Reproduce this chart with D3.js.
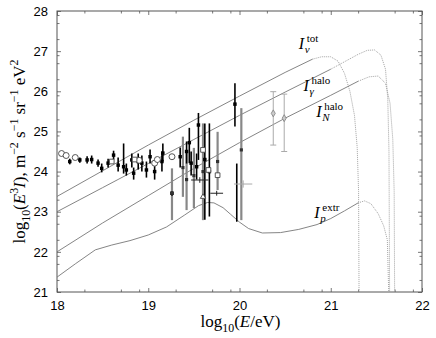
<!DOCTYPE html>
<html><head><meta charset="utf-8">
<script src="https://cdn.jsdelivr.net/npm/d3@7"></script>
<style>body{margin:0;background:#fff}svg{display:block}</style>
</head><body><div id="chart"></div>
<script>
// axis ticks
var xMajor = [18, 19, 20, 21, 22];
var yMajor = [21, 22, 23, 24, 25, 26, 27, 28];
var minorFrac = [0.3, 0.7, 0.9];

// model curves: [log10 E, log10 E^3 I]
var nuTot = [[18,23.38],[18.5,24.02],[19,24.66],[19.5,25.28],[20,25.88],[20.5,26.47],[20.8,26.8],[20.9,26.86],[21.0,26.86],[21.08,26.75],[21.15,26.45],[21.21,26.0],[21.26,25.4],[21.29,24.6],[21.305,23.5],[21.31,21]];
var gammaHalo = [[18,23.0],[18.5,23.6],[19,24.2],[19.5,24.8],[20,25.4],[20.5,25.98],[21,26.55],[21.3,26.92],[21.4,27.02],[21.48,27.03],[21.55,26.9],[21.6,26.55],[21.625,25.8],[21.638,24.5],[21.645,21]];
var nHalo = [[18,22.0],[18.5,22.72],[19,23.4],[19.5,24.08],[20,24.72],[20.5,25.33],[21,25.9],[21.3,26.25],[21.42,26.36],[21.52,26.38],[21.6,26.2],[21.65,25.7],[21.68,24.8],[21.695,23.5],[21.7,21]];
var pExtr = [[18,21.37],[18.2,21.7],[18.42,22.05],[18.6,22.17],[18.8,22.28],[19.0,22.42],[19.2,22.62],[19.4,22.92],[19.55,23.15],[19.65,23.23],[19.72,23.22],[19.82,23.1],[19.9,22.94],[20.0,22.74],[20.1,22.58],[20.25,22.47],[20.45,22.48],[20.65,22.56],[20.85,22.68],[21.0,22.83],[21.15,23.02],[21.3,23.22],[21.37,23.27],[21.44,23.2],[21.52,22.95],[21.58,22.65],[21.62,22.3],[21.635,21]];
var curves = [nuTot, gammaHalo, nHalo, pExtr];
var dottedFrom = [20.8, 21.25, 21.3, 21.3];

// measurements: [log10 E, value, low, high]
var blackPts = [[18.14,24.25,24.18,24.32],[18.25,24.29,24.22,24.35],[18.33,24.29,24.2,24.38],[18.38,24.3,24.2,24.4],[18.45,24.21,24.12,24.3],[18.49,24.08,23.98,24.2],[18.56,24.21,24.1,24.32],[18.62,24.41,24.3,24.52],[18.67,24.16,24.0,24.35],[18.73,24.12,23.95,24.7],[18.76,24.04,23.9,24.2],[18.82,24.29,24.1,24.45],[18.84,23.96,23.8,24.1],[18.89,24.25,24.05,24.45],[18.93,24.21,24.0,24.4],[18.98,24.04,23.85,24.25],[19.02,24.37,24.2,24.55],[19.07,24.0,23.8,24.2],[19.15,24.25,24.0,24.5],[19.16,24.46,24.25,24.7],[19.26,23.46,23.4,23.5],[19.35,24.37,24.1,24.6],[19.42,24.5,24.2,24.75],[19.45,24.72,24.21,25.09],[19.47,24.21,23.9,24.5],[19.53,24.12,23.8,24.45],[19.55,25.16,24.29,25.46],[19.62,24.3,22.8,25.2],[19.67,24.0,22.88,25.2],[19.95,25.68,25.12,26.2]];
var barOnly = [[19.97,24.2,22.75,24.2]];
var greyPts = [[19.26,23.46,22.79,24.08],[19.38,24.1,23.37,24.87],[19.42,23.8,23.04,24.46],[19.5,23.9,23.09,24.59],[19.6,24.0,22.79,25.2],[19.76,24.25,23.54,24.99],[20.02,24.54,22.79,25.58]];
var lightPts = [[20.37,25.45,24.66,25.99],[20.49,25.33,24.5,25.93]];
var openCircles = [[18.05,24.45],[18.1,24.4],[18.2,24.35],[18.9,24.28],[19.07,24.21],[19.26,24.37],[19.1,24.3]];
var openSquares = [[19.6,24.54],[19.66,24.04],[19.76,23.91],[18.6,24.25],[18.85,24.3]];
var triangles = [[19.6,23.37]];
var crosses = [[19.47,19.66,23.79,23.72,23.86],[19.68,19.82,23.46,23.4,23.52]];
var lightCross = [[19.94,20.14,23.69,23.6,23.78]];

var W = 436, H = 338;
var m = {l: 57, r: 14, t: 11, b: 46};

var svg = d3.select("#chart").append("svg").attr("width", W).attr("height", H);

var x = d3.scaleLinear().domain([18, 22]).range([m.l, W - m.r]);
var y = d3.scaleLinear().domain([21, 28]).range([H - m.b, m.t]);

var xMinor = [], yMinor = [];
xMajor.slice(0, -1).forEach(k => minorFrac.forEach(f => xMinor.push(k + f)));
yMajor.slice(0, -1).forEach(k => minorFrac.forEach(f => yMinor.push(k + f)));

var tickFont = "'Liberation Sans', Arial, sans-serif";
var axCol = "#555";

function addAxis(gen, tr, vals, size, labels) {
    var g = svg.append("g").attr("transform", tr)
        .call(gen.tickValues(vals).tickSize(size).tickPadding(labels ? 9 : 0)
                 .tickFormat(labels ? d3.format("d") : ""));
    g.select(".domain").remove();
    g.selectAll("line").attr("stroke", axCol).attr("stroke-width", 0.8);
    g.selectAll("text").attr("font-family", tickFont).attr("font-size", 13).attr("fill", "#000");
    return g;
}
addAxis(d3.axisBottom(x), "translate(0," + (H - m.b) + ")", xMajor, -4, true);
addAxis(d3.axisBottom(x), "translate(0," + (H - m.b) + ")", xMinor, -2.5, false);
addAxis(d3.axisTop(x), "translate(0," + m.t + ")", xMajor, -4, false);
addAxis(d3.axisTop(x), "translate(0," + m.t + ")", xMinor, -2.5, false);
addAxis(d3.axisLeft(y), "translate(" + m.l + ",0)", yMajor, -4, true);
addAxis(d3.axisLeft(y), "translate(" + m.l + ",0)", yMinor, -2.5, false);
addAxis(d3.axisRight(y), "translate(" + (W - m.r) + ",0)", yMajor, -4, false);
addAxis(d3.axisRight(y), "translate(" + (W - m.r) + ",0)", yMinor, -2.5, false);

svg.append("rect").attr("x", m.l).attr("y", m.t)
   .attr("width", W - m.l - m.r).attr("height", H - m.t - m.b)
   .attr("fill", "none").attr("stroke", axCol).attr("stroke-width", 1);

// curves
var line = d3.line().x(d => x(d[0])).y(d => y(d[1]));
curves.forEach(function(c, i) {
    var b = dottedFrom[i];
    var solid = c.filter(d => d[0] <= b);
    var dotted = c.slice(solid.length - 1);
    svg.append("path").attr("d", line(solid)).attr("fill", "none")
       .attr("stroke", "#777").attr("stroke-width", 0.9);
    svg.append("path").attr("d", line(dotted)).attr("fill", "none")
       .attr("stroke", "#999").attr("stroke-width", 0.9).attr("stroke-dasharray", "1,1");
});

// error bars
function bars(data, col, wdt) {
    svg.append("g").selectAll("line").data(data).enter().append("line")
       .attr("x1", d => x(d[0])).attr("x2", d => x(d[0]))
       .attr("y1", d => y(d[2])).attr("y2", d => y(d[3]))
       .attr("stroke", col).attr("stroke-width", wdt);
}
bars(greyPts, "#888", 2.2);
bars(blackPts, "#000", 1.6);
bars(barOnly, "#000", 1.6);
// light grey bars with caps
bars(lightPts, "#aaa", 1);
svg.append("g").selectAll("path").data(lightPts).enter().append("path")
   .attr("d", d => "M" + (x(d[0]) - 3) + "," + y(d[2]) + "h6M" + (x(d[0]) - 3) + "," + y(d[3]) + "h6")
   .attr("stroke", "#aaa").attr("stroke-width", 1);

function crossSet(data, col) {
    var g = svg.append("g");
    g.selectAll("line.h").data(data).enter().append("line")
       .attr("x1", d => x(d[0])).attr("x2", d => x(d[1]))
       .attr("y1", d => y(d[2])).attr("y2", d => y(d[2]))
       .attr("stroke", col).attr("stroke-width", 1);
    g.selectAll("line.v").data(data).enter().append("line")
       .attr("x1", d => x((d[0] + d[1]) / 2)).attr("x2", d => x((d[0] + d[1]) / 2))
       .attr("y1", d => y(d[3])).attr("y2", d => y(d[4]))
       .attr("stroke", col).attr("stroke-width", 1);
}
crossSet(crosses, "#222");
crossSet(lightCross, "#aaa");

// markers
function marks(data, type, size, fill, stroke) {
    svg.append("g").selectAll("path").data(data).enter().append("path")
       .attr("transform", d => "translate(" + x(d[0]) + "," + y(d[1]) + ")")
       .attr("d", d3.symbol().type(type).size(size))
       .attr("fill", fill).attr("stroke", stroke).attr("stroke-width", 0.9);
}
marks(blackPts, d3.symbolSquare, 12, "#000", "none");
marks(greyPts, d3.symbolSquare, 10, "#333", "none");
marks(lightPts, d3.symbolDiamond, 14, "#ccc", "#888");
marks(openCircles, d3.symbolCircle, 28, "#fff", "#444");
marks(openSquares, d3.symbolSquare, 22, "#fff", "#444");
marks(triangles, d3.symbolTriangle, 12, "#fff", "#444");

// curve labels
var serif = "'Liberation Serif', 'DejaVu Serif', serif";
function curveLabel(px, py, sub, sup) {
    var g = svg.append("g").attr("font-family", serif);
    g.append("text").attr("x", px).attr("y", py).attr("font-size", 16)
     .attr("font-style", "italic").text("I");
    g.append("text").attr("x", px + 8).attr("y", py - 7).attr("font-size", 11).text(sup);
    g.append("text").attr("x", px + 6).attr("y", py + 4).attr("font-size", 11)
     .attr("font-style", "italic").text(sub);
}
curveLabel(x(20.65), y(27.05), "\u03bd", "tot");
curveLabel(x(20.7), y(26.0), "\u03b3", "halo");
curveLabel(x(20.84), y(25.35), "N", "halo");
curveLabel(x(20.82), y(22.85), "p", "extr");

// axis titles
function mathText(t, parts, size) {
    var shift = 0;
    parts.forEach(function(p) {
        var target = p.s === "sub" ? size * 0.3 : p.s === "sup" ? -size * 0.42 : 0;
        var ts = t.append("tspan").text(p.t).attr("dy", target - shift);
        shift = target;
        if (p.s) ts.attr("font-size", size * 0.7);
        if (p.i) ts.attr("font-style", "italic");
    });
}
var xt = svg.append("text").attr("x", (m.l + W - m.r) / 2 + 1).attr("y", 327)
    .attr("text-anchor", "middle").attr("font-family", serif).attr("font-size", 17);
mathText(xt, [{t: "log"}, {t: "10", s: "sub"}, {t: "("}, {t: "E", i: 1}, {t: "/eV)"}], 17);

var yt = svg.append("text").attr("transform", "translate(25," + ((m.t + H - m.b) / 2) + ")rotate(-90)")
    .attr("text-anchor", "middle").attr("font-family", serif).attr("font-size", 17);
mathText(yt, [{t: "log"}, {t: "10", s: "sub"}, {t: "("}, {t: "E", i: 1}, {t: "3", s: "sup"},
              {t: "I", i: 1}, {t: "), m"}, {t: "\u22122", s: "sup"}, {t: " s"}, {t: "\u22121", s: "sup"},
              {t: " sr"}, {t: "\u22121", s: "sup"}, {t: " eV"}, {t: "2", s: "sup"}], 17);
</script>
</body></html>
